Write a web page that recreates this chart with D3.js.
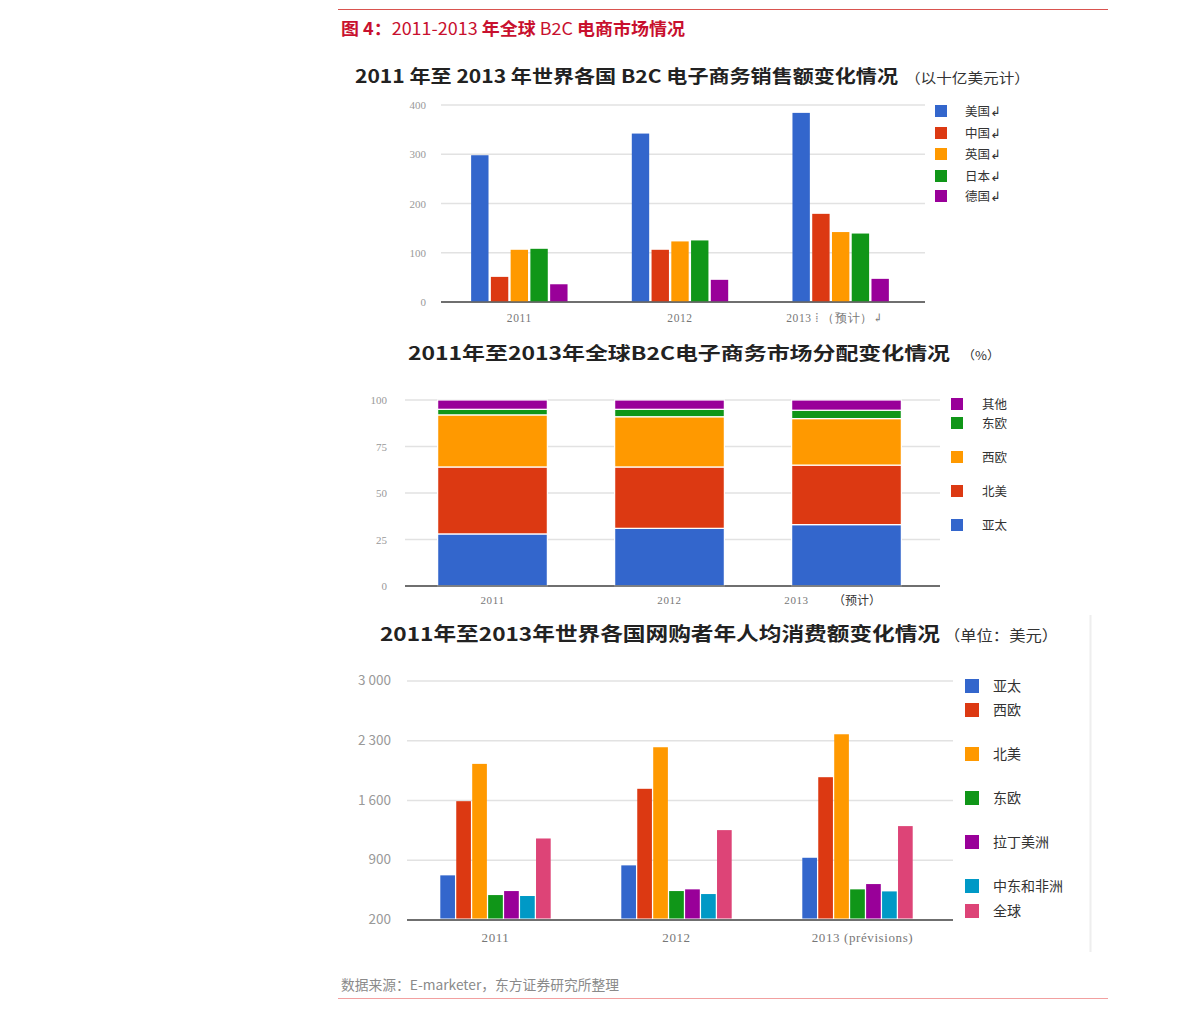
<!DOCTYPE html>
<html><head><meta charset="utf-8">
<script src="https://cdn.jsdelivr.net/npm/d3@7"></script>
<style>
body{margin:0;background:#fff;}
svg{display:block;}
</style></head>
<body>
<svg id="c" width="1191" height="1013"></svg>
<script>
// ---------- data ----------
const years = ["2011", "2012", "2013"];

// chart 1: B2C sales by country (billion USD)
const c1Labels = ["2011", "2012", "2013 ⁞ （预计）↲"];
const c1Series = ["美国", "中国", "英国", "日本", "德国"];
const c1USA = [298, 342, 384];
const c1China = [51, 106, 179];
const c1UK = [106, 123, 142];
const c1Japan = [108, 125, 139];
const c1Germany = [36, 45, 47];
const c1Ticks = [0, 100, 200, 300, 400];

// chart 2: market share (%)
const c2Labels = ["2011", "2012", "2013"];
const c2Series = ["亚太", "北美", "西欧", "东欧", "其他"];
const c2Asia = [28, 31, 33];
const c2NA = [36, 33, 32];
const c2WE = [28, 27, 25];
const c2EE = [3, 4, 4.5];
const c2Other = [5, 5, 5.5];
const c2Ticks = [0, 25, 50, 75, 100];

// chart 3: per-capita spend (USD)
const c3Labels = ["2011", "2012", "2013 (prévisions)"];
const c3Series = ["亚太", "西欧", "北美", "东欧", "拉丁美洲", "中东和非洲", "全球"];
const c3Asia = [723, 840, 929];
const c3WE = [1592, 1737, 1873];
const c3NA = [2029, 2224, 2376];
const c3EE = [492, 539, 559];
const c3LatAm = [539, 559, 621];
const c3MEA = [481, 504, 535];
const c3World = [1155, 1253, 1300];
const c3Ticks = [200, 900, 1600, 2300, 3000];
const c3TickLabels = ["200", "900", "1 600", "2 300", "3 000"];

// ---------- style ----------
const BLUE = "#3366cc", RED = "#dc3912", ORANGE = "#ff9900", GREEN = "#109618",
      PURPLE = "#990099", CYAN = "#0099c6", PINK = "#dd4477";
const CJK = "'Noto Sans CJK SC','Noto Sans',sans-serif";
const SERIF = "'Liberation Serif','DejaVu Serif',serif";

const svg = d3.select("#c");

// header
svg.append("line").attr("x1", 338).attr("x2", 1108).attr("y1", 9.5).attr("y2", 9.5)
  .attr("stroke", "#d9534f").attr("stroke-width", 1.2);
const hdr = svg.append("text").attr("x", 341).attr("y", 35)
  .attr("fill", "#c8102e").attr("font-family", CJK).attr("font-size", 17)
  .attr("textLength", 344).attr("lengthAdjust", "spacingAndGlyphs");
[["图 4：", 700], ["2011-2013 ", 400], ["年全球", 700], [" B2C ", 400], ["电商市场情况", 700]]
  .forEach(([t, w]) => hdr.append("tspan").attr("font-weight", w).text(t));

// footer
svg.append("text").attr("x", 341).attr("y", 990).attr("fill", "#8a8a8a")
  .attr("font-family", CJK).attr("font-size", 13.5)
  .attr("textLength", 278).attr("lengthAdjust", "spacingAndGlyphs")
  .text("数据来源：E-marketer，东方证券研究所整理");
svg.append("line").attr("x1", 338).attr("x2", 1108).attr("y1", 998.5).attr("y2", 998.5)
  .attr("stroke", "#f2a0a0").attr("stroke-width", 1.2);

function title(x, y, main, mainLen, unit, ux, uLen, size, usize) {
  svg.append("text").attr("x", x).attr("y", y).attr("font-family", CJK)
    .attr("font-weight", 700).attr("font-size", size).attr("fill", "#222")
    .attr("textLength", mainLen).attr("lengthAdjust", "spacingAndGlyphs").text(main);
  svg.append("text").attr("x", ux).attr("y", y).attr("font-family", CJK)
    .attr("font-size", usize).attr("fill", "#333")
    .attr("textLength", uLen).attr("lengthAdjust", "spacingAndGlyphs").text(unit);
}

function yAxis(scale, ticks, labels, xLab, x1, x2, fs, fam) {
  const g = svg.append("g");
  ticks.forEach((t, i) => {
    g.append("line").attr("x1", x1).attr("x2", x2)
      .attr("y1", scale(t)).attr("y2", scale(t))
      .attr("stroke", i === 0 ? "#666" : "#e2e2e2").attr("stroke-width", 1.5);
    g.append("text").attr("x", xLab).attr("y", scale(t) + 4).attr("text-anchor", "end")
      .attr("font-family", fam || SERIF).attr("font-size", fs).attr("fill", "#999").text(labels[i]);
  });
}

function xLabels(band, labels, y, fs, offsets) {
  years.forEach((yr, i) => {
    svg.append("text").attr("x", band(yr) + band.bandwidth() / 2 + (offsets ? offsets[i] : 0))
      .attr("y", y).attr("text-anchor", "middle").attr("font-family", SERIF)
      .attr("font-size", fs).attr("fill", "#777").attr("letter-spacing", 0.6).text(labels[i]);
  });
}

function legend(items, colors, x, ys, tx, sq, fs) {
  items.forEach((n, i) => {
    svg.append("rect").attr("x", x).attr("y", ys[i] - sq / 2).attr("width", sq).attr("height", sq)
      .attr("fill", colors[i]);
    svg.append("text").attr("x", tx).attr("y", ys[i] + fs * 0.38).attr("font-family", CJK)
      .attr("font-size", fs).attr("fill", "#333").text(n);
  });
}

// ---------- chart 1 ----------
title(355, 83, "2011 年至 2013 年世界各国 B2C 电子商务销售额变化情况", 543, "（以十亿美元计）", 905, 125, 18, 14);
{
  const y = d3.scaleLinear().domain([0, 400]).range([302, 105]);
  const x0 = d3.scaleBand().domain(years).range([439, 921]).paddingInner(0.4).paddingOuter(0.2);
  const data = [c1USA, c1China, c1UK, c1Japan, c1Germany];
  const colors = [BLUE, RED, ORANGE, GREEN, PURPLE];
  const x1 = d3.scaleBand().domain(d3.range(data.length)).range([0, x0.bandwidth()]).paddingInner(0.12);
  yAxis(y, c1Ticks, c1Ticks.map(String), 426, 441, 925, 11);
  years.forEach((yr, i) => {
    data.forEach((s, j) => {
      svg.append("rect").attr("x", x0(yr) + x1(j)).attr("y", y(s[i]))
        .attr("width", x1.bandwidth()).attr("height", y(0) - y(s[i])).attr("fill", colors[j]);
    });
  });
  svg.append("line").attr("x1", 441).attr("x2", 925).attr("y1", 302).attr("y2", 302)
    .attr("stroke", "#666").attr("stroke-width", 1.5);
  xLabels(x0, c1Labels, 322, 11.5, [0, 0, -6]);
  legend(c1Series.map(s => s + "↲"), colors, 935, [111, 133, 154, 176, 196], 965, 12, 12.5);
}

// ---------- chart 2 ----------
title(408, 360, "2011年至2013年全球B2C电子商务市场分配变化情况", 542, "（%）", 962, 38, 18, 12);
{
  const y = d3.scaleLinear().domain([0, 100]).range([586, 400]);
  const x0 = d3.scaleBand().domain(years).range([404, 935]).paddingInner(0.38).paddingOuter(0.19);
  const data = [c2Asia, c2NA, c2WE, c2EE, c2Other];
  const colors = [BLUE, RED, ORANGE, GREEN, PURPLE];
  yAxis(y, c2Ticks, c2Ticks.map(String), 387, 405, 940, 11);
  years.forEach((yr, i) => {
    let acc = 0;
    data.forEach((s, j) => {
      const y0 = acc, y1v = acc + s[i];
      acc = y1v;
      svg.append("rect").attr("x", x0(yr)).attr("y", y(y1v))
        .attr("width", x0.bandwidth()).attr("height", y(y0) - y(y1v))
        .attr("fill", colors[j]).attr("stroke", "#fff").attr("stroke-width", 1.2);
    });
  });
  svg.append("line").attr("x1", 405).attr("x2", 940).attr("y1", 586).attr("y2", 586)
    .attr("stroke", "#666").attr("stroke-width", 1.5);
  xLabels(x0, c2Labels, 604, 11, [0, 0, -50]);
  svg.append("text").attr("x", 857).attr("y", 605).attr("text-anchor", "middle")
    .attr("font-family", CJK).attr("font-size", 12).attr("fill", "#333").text("（预计）");
  const legOrder = [4, 3, 2, 1, 0];
  legend(legOrder.map(k => c2Series[k]), legOrder.map(k => colors[k]), 951,
    [404, 423, 457, 491, 525], 982, 12, 12.5);
}

// ---------- chart 3 ----------
title(380, 641, "2011年至2013年世界各国网购者年人均消费额变化情况", 560, "（单位：美元）", 944, 114, 19, 15);
{
  svg.append("line").attr("x1", 1090.5).attr("x2", 1090.5).attr("y1", 615).attr("y2", 952)
    .attr("stroke", "#eee").attr("stroke-width", 2);
  const y = d3.scaleLinear().domain([200, 3000]).range([920, 681]);
  const x0 = d3.scaleBand().domain(years).range([405, 948]).paddingInner(0.39).paddingOuter(0.195);
  const data = [c3Asia, c3WE, c3NA, c3EE, c3LatAm, c3MEA, c3World];
  const colors = [BLUE, RED, ORANGE, GREEN, PURPLE, CYAN, PINK];
  const x1 = d3.scaleBand().domain(d3.range(data.length)).range([0, x0.bandwidth()]).paddingInner(0.08);
  yAxis(y, c3Ticks, c3TickLabels, 391, 407, 953, 13.5, CJK);
  years.forEach((yr, i) => {
    data.forEach((s, j) => {
      svg.append("rect").attr("x", x0(yr) + x1(j)).attr("y", y(s[i]))
        .attr("width", x1.bandwidth()).attr("height", y(200) - y(s[i]) - 1.5).attr("fill", colors[j]);
    });
  });
  svg.append("line").attr("x1", 407).attr("x2", 953).attr("y1", 920).attr("y2", 920)
    .attr("stroke", "#666").attr("stroke-width", 1.5);
  xLabels(x0, c3Labels, 942, 13, [0, 0, 5]);
  legend(c3Series, colors, 965, [686, 710, 754, 798, 842, 886, 911], 993, 14, 14);
}
</script>
</body></html>
